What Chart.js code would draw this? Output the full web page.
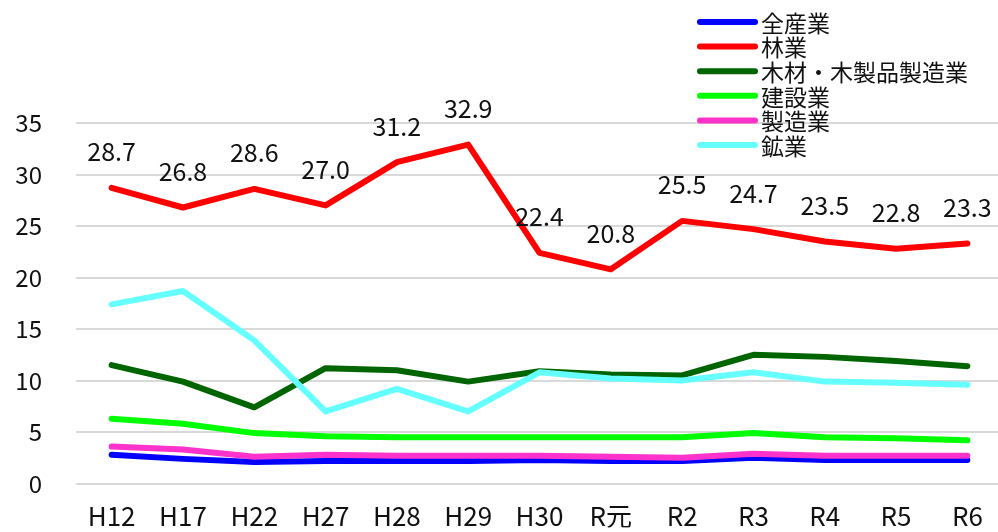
<!DOCTYPE html>
<html>
<head>
<meta charset="utf-8">
<script src="https://cdn.jsdelivr.net/npm/chart.js@4/dist/chart.umd.min.js"></script>
<style>
  html, body { margin: 0; padding: 0; background: #fff; overflow: hidden; }
  #wrap { width: 1003px; height: 532px; }
</style>
</head>
<body>
<div id="wrap"><canvas id="rateChart" width="1003" height="532"></canvas></div>
<script>
// categories (fiscal years)
const years = ['H12', 'H17', 'H22', 'H27', 'H28', 'H29', 'H30', 'R元', 'R2', 'R3', 'R4', 'R5', 'R6'];

// series values
const allIndustry = [2.8, 2.4, 2.1, 2.2, 2.2, 2.2, 2.3, 2.2, 2.2, 2.5, 2.3, 2.3, 2.3];
const forestry = [28.7, 26.8, 28.6, 27.0, 31.2, 32.9, 22.4, 20.8, 25.5, 24.7, 23.5, 22.8, 23.3];
const woodProducts = [11.5, 9.9, 7.4, 11.2, 11.0, 9.9, 10.9, 10.6, 10.5, 12.5, 12.3, 11.9, 11.4];
const construction = [6.3, 5.8, 4.9, 4.6, 4.5, 4.5, 4.5, 4.5, 4.5, 4.9, 4.5, 4.4, 4.2];
const manufacturing = [3.6, 3.3, 2.6, 2.8, 2.7, 2.7, 2.7, 2.6, 2.5, 2.9, 2.7, 2.7, 2.7];
const mining = [17.4, 18.7, 13.9, 7.0, 9.2, 7.0, 10.8, 10.2, 10.0, 10.8, 9.9, 9.8, 9.6];

const seriesNames = ['全産業', '林業', '木材・木製品製造業', '建設業', '製造業', '鉱業'];
const seriesValues = [allIndustry, forestry, woodProducts, construction, manufacturing, mining];
const seriesColors = ['#0000ff', '#ff0000', '#006400', '#00ff00', '#ff33cc', '#66ffff'];

// y axis ticks
const yTicks = [0, 5, 10, 15, 20, 25, 30, 35];

const jpFont = '"Noto Sans CJK JP", sans-serif';

// === value labels above the 林業 line ===
const forestryLabels = {
  id: 'forestryLabels',
  afterDatasetsDraw(chart) {
    const ctx = chart.ctx;
    const meta = chart.getDatasetMeta(1);
    ctx.save();
    ctx.font = '25px ' + jpFont;
    ctx.fillStyle = '#111';
    ctx.textAlign = 'center';
    ctx.textBaseline = 'middle';
    meta.data.forEach((pt, i) => {
      ctx.fillText(forestry[i].toFixed(1), pt.x, pt.y - 36);
    });
    ctx.restore();
  }
};

// === stacked legend in the top right corner ===
const sideLegend = {
  id: 'sideLegend',
  afterDraw(chart) {
    const ctx = chart.ctx;
    ctx.save();
    ctx.font = '23px ' + jpFont;
    ctx.textBaseline = 'middle';
    ctx.textAlign = 'left';
    chart.data.datasets.forEach((ds, i) => {
      const y = 22 + i * 24.6;
      ctx.strokeStyle = ds.borderColor;
      ctx.lineWidth = 6;
      ctx.lineCap = 'round';
      ctx.beginPath();
      ctx.moveTo(700, y);
      ctx.lineTo(755, y);
      ctx.stroke();
      ctx.fillStyle = '#111';
      ctx.fillText(ds.label, 761, y + 1);
    });
    ctx.restore();
  }
};

const datasets = seriesNames.map((name, i) => ({
  label: name,
  data: seriesValues[i],
  borderColor: seriesColors[i],
  backgroundColor: seriesColors[i],
  borderWidth: 6,
  borderCapStyle: 'round',
  borderJoinStyle: 'round',
  pointRadius: 0,
  tension: 0,
  order: seriesNames.length - i   // later series on top
}));

new Chart(document.getElementById('rateChart'), {
  type: 'line',
  data: { labels: years, datasets },
  options: {
    responsive: false,
    animation: false,
    layout: { padding: { top: 123, left: 0, right: 0, bottom: 0 } },
    plugins: {
      legend: { display: false },
      tooltip: { enabled: false }
    },
    scales: {
      x: {
        offset: true,
        grid: { display: false, drawTicks: false },
        border: { display: false },
        ticks: {
          padding: 17,
          color: '#111',
          font: { family: jpFont, size: 26 },
          maxRotation: 0,
          autoSkip: false
        },
        afterFit(scale) { scale.height = 44; }
      },
      y: {
        min: 0,
        max: 35,
        afterBuildTicks(scale) { scale.ticks = yTicks.map(v => ({ value: v })); },
        grid: { color: '#d9d9d9', lineWidth: 2, drawTicks: false },
        border: { display: false },
        ticks: {
          padding: 34,
          color: '#111',
          font: { family: jpFont, size: 24 }
        },
        afterFit(scale) { scale.width = 76; }
      }
    }
  },
  plugins: [forestryLabels, sideLegend]
});
</script>
</body>
</html>
